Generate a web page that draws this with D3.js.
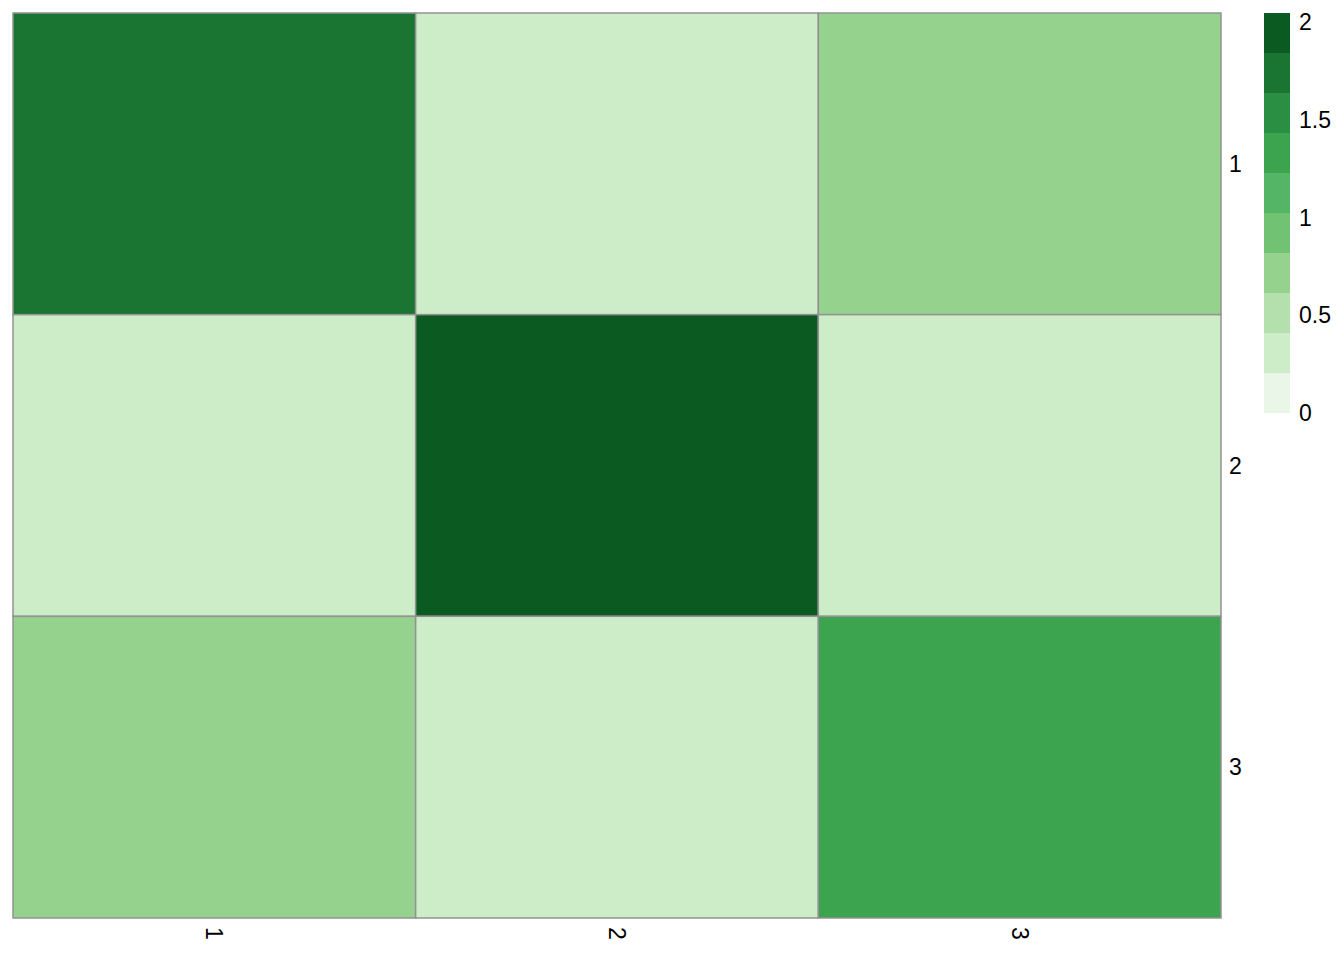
<!DOCTYPE html>
<html>
<head>
<meta charset="utf-8">
<script src="https://cdn.jsdelivr.net/npm/d3@7"></script>
<style>
body { margin: 0; background: #fff; }
text { font-family: "Liberation Sans", Arial, sans-serif; fill: #000; }
</style>
</head>
<body>
<div id="chart"></div>
<script>
// matrix rows / cols
var rowLabels = ["1", "2", "3"];
var colLabels = ["1", "2", "3"];
var values = [
  [1.7, 0.3, 0.7],
  [0.3, 1.95, 0.3],
  [0.7, 0.3, 1.3]
];
var breaks = [0, 0.2, 0.4, 0.6, 0.8, 1.0, 1.2, 1.4, 1.6, 1.8, 2.0];
var palette = ["#EAF6E7", "#CDEDC9", "#B3E0AC", "#94D28D", "#72C274",
               "#55B566", "#3CA34F", "#2A8F42", "#1A7532", "#0B5A22"];
var legendTicks = [0, 0.5, 1, 1.5, 2];

var W = 1344, H = 960;
var svg = d3.select("#chart").append("svg").attr("width", W).attr("height", H);

var x = d3.scaleBand().domain(colLabels).range([13, 1221]);
var y = d3.scaleBand().domain(rowLabels).range([13, 918]);
var color = d3.scaleThreshold().domain(breaks.slice(1, -1)).range(palette);

var cells = [];
values.forEach(function(r, i) {
  r.forEach(function(v, j) { cells.push({row: rowLabels[i], col: colLabels[j], v: v}); });
});

svg.append("g").selectAll("rect").data(cells).enter().append("rect")
  .attr("x", function(d) { return x(d.col); })
  .attr("y", function(d) { return y(d.row); })
  .attr("width", x.bandwidth())
  .attr("height", y.bandwidth())
  .attr("fill", function(d) { return color(d.v); })
  .attr("stroke", "#929292")
  .attr("stroke-width", 1.5);

// row labels
svg.append("g").selectAll("text").data(rowLabels).enter().append("text")
  .attr("x", 1229)
  .attr("y", function(d) { return y(d) + y.bandwidth() / 2; })
  .attr("dy", "0.35em")
  .style("font-size", "23px")
  .text(function(d) { return d; });

// column labels, rotated
svg.append("g").selectAll("text").data(colLabels).enter().append("text")
  .attr("transform", function(d) { return "translate(" + (x(d) + x.bandwidth() / 2) + ",927) rotate(90)"; })
  .attr("dy", "0.35em")
  .style("font-size", "23px")
  .text(function(d) { return d; });

// legend
var ly = d3.scaleLinear().domain([0, 2]).range([413, 13]);
var lg = svg.append("g");
lg.selectAll("rect").data(palette).enter().append("rect")
  .attr("x", 1264)
  .attr("y", function(d, i) { return ly(breaks[i + 1]); })
  .attr("width", 26)
  .attr("height", function(d, i) { return ly(breaks[i]) - ly(breaks[i + 1]); })
  .attr("fill", function(d) { return d; });

var ty = d3.scaleLinear().domain([0, 2]).range([413, 22]);
lg.selectAll("text").data(legendTicks).enter().append("text")
  .attr("x", 1299)
  .attr("y", function(d) { return ty(d); })
  .attr("dy", "0.35em")
  .style("font-size", "23px")
  .text(function(d) { return d; });
</script>
</body>
</html>
